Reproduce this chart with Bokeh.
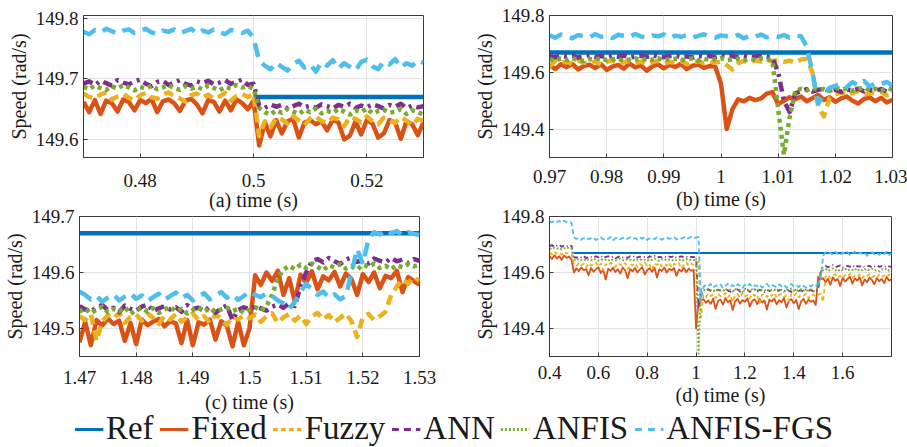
from bokeh.plotting import figure
from bokeh.models import Range1d, FixedTicker, Legend, LegendItem
from bokeh.layouts import column, row
from bokeh.embed import file_html
from bokeh.resources import INLINE

FONT = "'Liberation Serif', 'Times New Roman', serif"

# ---------------- data ----------------
names = ["Ref", "Fixed", "Fuzzy", "ANN", "ANFIS", "ANFIS-FGS"]
ref_speed = 149.67
ref_start = 0.5

# panel (a): 0.470 .. 0.530 s, 1 ms step
t_a = [round(0.470 + 0.001 * i, 3) for i in range(61)]
fixed_a = [149.662, 149.645, 149.665, 149.642, 149.664, 149.660, 149.646, 149.666, 149.662, 149.648,
           149.665, 149.660, 149.667, 149.645, 149.663, 149.666, 149.660, 149.647, 149.664, 149.667,
           149.658, 149.643, 149.665, 149.662, 149.646, 149.664, 149.648, 149.666, 149.660, 149.650,
           149.664, 149.590, 149.628, 149.605, 149.632, 149.610, 149.630, 149.634, 149.603, 149.628,
           149.632, 149.625, 149.630, 149.615, 149.633, 149.628, 149.600, 149.606, 149.630, 149.608,
           149.632, 149.626, 149.603, 149.610, 149.632, 149.628, 149.601, 149.630, 149.625, 149.607,
           149.628]
fuzzy_a = [149.676, 149.670, 149.668, 149.674, 149.678, 149.666, 149.671, 149.675, 149.669, 149.664,
           149.673, 149.677, 149.670, 149.667, 149.674, 149.678, 149.671, 149.668, 149.662, 149.673,
           149.676, 149.669, 149.674, 149.667, 149.671, 149.677, 149.664, 149.672, 149.675, 149.670,
           149.676, 149.605,
           149.630, 149.620, 149.636, 149.633, 149.626, 149.638, 149.631, 149.624, 149.635, 149.638,
           149.630, 149.627, 149.636, 149.633, 149.622, 149.637, 149.634, 149.628, 149.638, 149.630,
           149.625, 149.636, 149.632, 149.627, 149.637, 149.631, 149.623, 149.634, 149.630]
ann_a = [149.692, 149.696, 149.690, 149.697, 149.693, 149.689, 149.698, 149.694, 149.691, 149.696,
         149.699, 149.692, 149.688, 149.695, 149.697, 149.690, 149.694, 149.698, 149.692, 149.689,
         149.696, 149.693, 149.697, 149.691, 149.694, 149.698, 149.692, 149.695, 149.699, 149.690,
         149.692,
         149.656, 149.652, 149.658, 149.654, 149.657, 149.651, 149.655, 149.659, 149.653, 149.656,
         149.652, 149.658, 149.655, 149.651, 149.657, 149.654, 149.659, 149.652, 149.656, 149.653,
         149.658, 149.655, 149.651, 149.657, 149.654, 149.659, 149.652, 149.656, 149.653, 149.655]
anfis_a = [149.687, 149.683, 149.689, 149.685, 149.682, 149.688, 149.684, 149.690, 149.686, 149.681,
           149.687, 149.684, 149.689, 149.683, 149.686, 149.690, 149.685, 149.682, 149.688, 149.684,
           149.687, 149.683, 149.689, 149.685, 149.681, 149.687, 149.684, 149.690, 149.686, 149.688,
           149.684,
           149.652, 149.645, 149.641, 149.648, 149.644, 149.650, 149.646, 149.642, 149.649, 149.645,
           149.651, 149.643, 149.647, 149.644, 149.650, 149.646, 149.641, 149.648, 149.645, 149.651,
           149.643, 149.647, 149.649, 149.644, 149.646, 149.650, 149.642, 149.648, 149.645, 149.641]
fgs_a = [149.778, 149.774, 149.781, 149.777, 149.783, 149.779, 149.775, 149.780, 149.782, 149.776,
         149.779, 149.783, 149.777, 149.774, 149.780, 149.778, 149.782, 149.776, 149.779, 149.783,
         149.775, 149.780, 149.777, 149.782, 149.778, 149.774, 149.781, 149.779, 149.776, 149.780,
         149.768,
         149.730, 149.722, 149.716, 149.727, 149.720, 149.714, 149.725, 149.730, 149.719, 149.724,
         149.712, 149.728, 149.722, 149.731, 149.717, 149.726, 149.720, 149.714, 149.728, 149.732,
         149.721, 149.716, 149.729, 149.724, 149.733, 149.719, 149.726, 149.722, 149.731, 149.727]

# panel (b): 0.970 .. 1.030 s
t_b = [round(0.970 + 0.001 * i, 3) for i in range(61)]
fixed_b = [149.625, 149.612, 149.628, 149.618, 149.630, 149.610, 149.622, 149.627, 149.615, 149.629,
           149.608, 149.620, 149.626, 149.613, 149.631, 149.617, 149.624, 149.606, 149.621, 149.628,
           149.614, 149.626, 149.619, 149.630, 149.611, 149.623, 149.627, 149.616, 149.622, 149.620,
           149.560, 149.400, 149.470, 149.505,
           149.498, 149.510, 149.502, 149.508, 149.525, 149.530, 149.488, 149.500, 149.512, 149.505,
           149.515, 149.498, 149.509, 149.520, 149.503, 149.512, 149.496, 149.508, 149.515, 149.500,
           149.490, 149.506, 149.512, 149.498, 149.510, 149.494, 149.503]
fuzzy_b = [149.620, 149.640, 149.632, 149.638, 149.628, 149.641, 149.634, 149.630, 149.639, 149.626,
           149.637, 149.642, 149.629, 149.636, 149.640, 149.631, 149.638, 149.627, 149.635, 149.641,
           149.630, 149.637, 149.633, 149.640, 149.628, 149.636, 149.639, 149.632, 149.637, 149.634,
           149.638, 149.625, 149.610, 149.632, 149.640, 149.636, 149.642, 149.638, 149.644, 149.640,
           149.643, 149.637, 149.641, 149.634, 149.645, 149.648,
           149.600, 149.480, 149.445, 149.510,
           149.522, 149.530, 149.518, 149.527, 149.533, 149.520, 149.528, 149.524, 149.531, 149.519,
           149.526]
ann_b = [149.657, 149.653, 149.659, 149.655, 149.658, 149.652, 149.656, 149.660, 149.654, 149.657,
         149.653, 149.658, 149.655, 149.659, 149.652, 149.656, 149.658, 149.654, 149.660, 149.655,
         149.653, 149.657, 149.659, 149.654, 149.656, 149.652, 149.658, 149.655, 149.657, 149.653,
         149.659, 149.655, 149.657, 149.652, 149.658, 149.654, 149.656, 149.659, 149.655,
         149.650, 149.600, 149.500, 149.460, 149.525,
         149.535, 149.541, 149.532, 149.538, 149.543, 149.534, 149.539, 149.531, 149.540, 149.536,
         149.542, 149.533, 149.538, 149.535, 149.541, 149.532, 149.537]
anfis_b = [149.646, 149.641, 149.648, 149.643, 149.649, 149.644, 149.640, 149.647, 149.645, 149.650,
           149.642, 149.646, 149.648, 149.641, 149.645, 149.649, 149.643, 149.647, 149.644, 149.650,
           149.642, 149.646, 149.648, 149.643, 149.645, 149.649, 149.641, 149.647, 149.644, 149.646,
           149.650, 149.643, 149.645, 149.648, 149.642, 149.647, 149.644, 149.649, 149.646,
           149.640, 149.470, 149.310, 149.440, 149.535,
           149.542, 149.536, 149.545, 149.538, 149.541, 149.534, 149.546, 149.539, 149.543, 149.535,
           149.540, 149.547, 149.537, 149.542, 149.536, 149.544, 149.539]
fgs_b = [149.730, 149.722, 149.733, 149.726, 149.720, 149.731, 149.727, 149.723, 149.734, 149.725,
         149.729, 149.721, 149.732, 149.728, 149.724, 149.735, 149.726, 149.722, 149.730, 149.727,
         149.733, 149.721, 149.729, 149.725, 149.731, 149.723, 149.728, 149.734, 149.726, 149.722,
         149.730, 149.727, 149.724, 149.732, 149.720, 149.729, 149.726, 149.733, 149.723, 149.728,
         149.725, 149.731, 149.722, 149.729, 149.727,
         149.690, 149.600, 149.490, 149.520, 149.545,
         149.552, 149.560, 149.548, 149.565, 149.555, 149.570, 149.550, 149.562, 149.558, 149.566,
         149.553]

# panel (c): 1.470 .. 1.530 s
t_c = [round(1.470 + 0.001 * i, 3) for i in range(61)]
fixed_c = [149.475, 149.512, 149.470, 149.515, 149.505, 149.518, 149.508, 149.514, 149.478, 149.510,
           149.472, 149.516, 149.506, 149.512, 149.517, 149.504, 149.513, 149.509, 149.474, 149.515,
           149.470, 149.511, 149.507, 149.516, 149.480, 149.513, 149.505, 149.468, 149.512, 149.470,
           149.500,
           149.595, 149.578, 149.600, 149.585, 149.603, 149.560, 149.590, 149.548, 149.596, 149.582,
           149.602, 149.570, 149.593, 149.586, 149.601, 149.575, 149.598, 149.588, 149.560, 149.597,
           149.583, 149.600, 149.572, 149.594, 149.590, 149.603, 149.565, 149.592, 149.585, 149.578]
fuzzy_c = [149.522, 149.515, 149.526, 149.478, 149.512, 149.524, 149.518, 149.528, 149.510, 149.521,
           149.525, 149.514, 149.527, 149.519, 149.508, 149.523, 149.516, 149.526, 149.512, 149.520,
           149.527, 149.515, 149.522, 149.510, 149.525, 149.518, 149.506, 149.521, 149.516, 149.524,
           149.518, 149.525, 149.512, 149.522, 149.527, 149.510, 149.520, 149.526, 149.514, 149.523,
           149.508, 149.521, 149.528, 149.516, 149.524, 149.511, 149.519, 149.527, 149.513, 149.485,
           149.520, 149.526, 149.515, 149.522,
           149.530, 149.560, 149.575,
           149.588, 149.580, 149.592, 149.585]
ann_c = [149.540, 149.534, 149.530, 149.538, 149.542, 149.533, 149.537, 149.529, 149.541, 149.535,
         149.532, 149.539, 149.543, 149.531, 149.536, 149.540, 149.534, 149.538, 149.530, 149.542,
         149.535, 149.537, 149.531, 149.539, 149.528, 149.536, 149.541, 149.515, 149.533, 149.538,
         149.534, 149.540, 149.536, 149.532, 149.539, 149.543, 149.537,
         149.545, 149.540, 149.575, 149.600, 149.620,
         149.624, 149.618, 149.626, 149.620, 149.615, 149.623, 149.627, 149.619, 149.622, 149.616,
         149.625, 149.621, 149.618, 149.626, 149.620, 149.623, 149.617, 149.624, 149.621]
anfis_c = [149.530, 149.536, 149.527, 149.534, 149.539, 149.529, 149.535, 149.531, 149.538, 149.526,
           149.533, 149.537, 149.530, 149.536, 149.528, 149.534, 149.539, 149.531, 149.535, 149.527,
           149.533, 149.538, 149.530, 149.536, 149.529, 149.534, 149.537, 149.531, 149.535, 149.528,
           149.533, 149.538, 149.532, 149.540,
           149.560, 149.590, 149.605,
           149.612, 149.606, 149.614, 149.608, 149.616, 149.610, 149.604, 149.613, 149.609, 149.615,
           149.607, 149.611, 149.605, 149.614, 149.610, 149.616, 149.608, 149.612, 149.606, 149.613,
           149.609, 149.615, 149.611, 149.614]
fgs_c = [149.566, 149.560, 149.552, 149.558, 149.548, 149.555, 149.561, 149.550, 149.557, 149.563,
         149.553, 149.559, 149.549, 149.556, 149.562, 149.551, 149.558, 149.564, 149.554, 149.560,
         149.550, 149.557, 149.563, 149.552, 149.559, 149.565, 149.555, 149.561, 149.551, 149.558,
         149.566, 149.560, 149.556, 149.563, 149.558, 149.550, 149.545,
         149.535, 149.548, 149.565, 149.580, 149.570,
         149.560, 149.566, 149.555, 149.561, 149.552, 149.558,
         149.600, 149.642, 149.615, 149.660,
         149.672, 149.668, 149.676, 149.670, 149.674, 149.666, 149.672, 149.669, 149.667]

# panel (d): 0.40 .. 1.80 s, 10 ms step
t_d = [round(0.40 + 0.01 * i, 2) for i in range(141)]
fixed_d = [149.660, 149.648, 149.662, 149.650, 149.658, 149.645, 149.661, 149.652, 149.657, 149.647,
           149.600, 149.615, 149.605, 149.618, 149.608, 149.612, 149.590, 149.616, 149.603, 149.611,
           149.619, 149.598, 149.610, 149.575, 149.614, 149.606, 149.617, 149.602, 149.612, 149.596,
           149.618, 149.607, 149.580, 149.613, 149.604, 149.616, 149.600, 149.611, 149.619, 149.593,
           149.609, 149.615, 149.603, 149.617, 149.582, 149.612, 149.605, 149.618, 149.600, 149.613,
           149.608, 149.616, 149.588, 149.611, 149.604, 149.617, 149.601, 149.614, 149.606, 149.610,
           149.400, 149.495, 149.500,
           149.505, 149.492, 149.500, 149.488, 149.507, 149.470, 149.498, 149.503, 149.485, 149.509,
           149.494, 149.501, 149.466, 149.497, 149.506, 149.489, 149.502, 149.495, 149.508, 149.478,
           149.499, 149.504, 149.487, 149.506, 149.493, 149.500, 149.468, 149.503, 149.496, 149.507,
           149.486, 149.501, 149.494, 149.509, 149.475, 149.498, 149.505, 149.490, 149.502, 149.469,
           149.497, 149.506, 149.488, 149.503, 149.495, 149.500, 149.484,
           149.585, 149.575,
           149.580, 149.565, 149.578, 149.556, 149.583, 149.570, 149.577, 149.552, 149.581, 149.568,
           149.576, 149.585, 149.560, 149.579, 149.571, 149.583, 149.554, 149.575, 149.566, 149.582,
           149.573, 149.558, 149.580, 149.569, 149.577, 149.562, 149.584, 149.571, 149.576]
fuzzy_d = [149.672, 149.665, 149.675, 149.667, 149.671, 149.663, 149.674, 149.668, 149.670, 149.666,
           149.630, 149.622, 149.634, 149.626, 149.631, 149.618, 149.633, 149.625, 149.629, 149.636,
           149.621, 149.632, 149.608, 149.630, 149.624, 149.635, 149.627, 149.620, 149.633, 149.628,
           149.623, 149.634, 149.612, 149.630, 149.626, 149.633, 149.619, 149.631, 149.625, 149.636,
           149.622, 149.629, 149.610, 149.632, 149.627, 149.634, 149.621, 149.630, 149.624, 149.635,
           149.618, 149.631, 149.626, 149.633, 149.615, 149.629, 149.636, 149.623, 149.631, 149.628,
           149.635, 149.640, 149.440,
           149.520, 149.512, 149.525, 149.516, 149.522, 149.508, 149.524, 149.515, 149.519, 149.527,
           149.511, 149.521, 149.495, 149.518, 149.523, 149.510, 149.526, 149.514, 149.520, 149.506,
           149.524, 149.517, 149.521, 149.490, 149.519, 149.525, 149.512, 149.522, 149.516, 149.527,
           149.509, 149.520, 149.524, 149.513, 149.518, 149.498, 149.523, 149.515, 149.526, 149.511,
           149.521, 149.517, 149.524, 149.508, 149.519, 149.522, 149.514,
           149.520, 149.525,
           149.495,
           149.585, 149.592, 149.580, 149.589, 149.594, 149.582, 149.588, 149.578, 149.591, 149.586,
           149.595, 149.581, 149.589, 149.584, 149.593, 149.579, 149.590, 149.586, 149.594, 149.583,
           149.588, 149.580, 149.592, 149.585, 149.590, 149.582, 149.593, 149.587]
ann_d = [149.694, 149.698, 149.691, 149.696, 149.699, 149.692, 149.697, 149.693, 149.698, 149.695,
         149.656, 149.652, 149.658, 149.654, 149.659, 149.651, 149.657, 149.655, 149.653, 149.658,
         149.654, 149.660, 149.652, 149.656, 149.658, 149.653, 149.657, 149.651, 149.655, 149.659,
         149.654, 149.656, 149.652, 149.658, 149.655, 149.660, 149.653, 149.657, 149.654, 149.656,
         149.651, 149.658, 149.655, 149.659, 149.652, 149.656, 149.654, 149.658, 149.653, 149.657,
         149.655, 149.660, 149.652, 149.656, 149.658, 149.654, 149.657, 149.653, 149.656, 149.655,
         149.657, 149.470, 149.535,
         149.538, 149.532, 149.540, 149.534, 149.537, 149.530, 149.539, 149.535, 149.533, 149.541,
         149.536, 149.531, 149.538, 149.534, 149.540, 149.532, 149.537, 149.535, 149.539, 149.531,
         149.536, 149.540, 149.533, 149.538, 149.535, 149.530, 149.539, 149.534, 149.537, 149.541,
         149.532, 149.536, 149.538, 149.533, 149.540, 149.535, 149.531, 149.537, 149.539, 149.534,
         149.536, 149.532, 149.540, 149.535, 149.538, 149.533, 149.537,
         149.540, 149.600,
         149.620, 149.624, 149.618, 149.623, 149.626, 149.619, 149.622, 149.625, 149.617, 149.621,
         149.624, 149.620, 149.626, 149.618, 149.623, 149.621, 149.625, 149.619, 149.622, 149.624,
         149.617, 149.621, 149.626, 149.620, 149.623, 149.619, 149.625, 149.622, 149.620]
anfis_d = [149.686, 149.683, 149.689, 149.685, 149.688, 149.682, 149.687, 149.684, 149.690, 149.686,
           149.646, 149.642, 149.649, 149.644, 149.648, 149.641, 149.647, 149.643, 149.650, 149.645,
           149.642, 149.648, 149.644, 149.646, 149.641, 149.649, 149.645, 149.643, 149.647, 149.650,
           149.644, 149.642, 149.648, 149.646, 149.641, 149.647, 149.645, 149.649, 149.643, 149.646,
           149.642, 149.648, 149.644, 149.650, 149.645, 149.641, 149.647, 149.643, 149.649, 149.646,
           149.642, 149.648, 149.644, 149.647, 149.641, 149.645, 149.649, 149.643, 149.646, 149.644,
           149.645, 149.310, 149.540,
           149.540, 149.534, 149.542, 149.536, 149.539, 149.531, 149.541, 149.537, 149.533, 149.543,
           149.535, 149.539, 149.532, 149.541, 149.536, 149.538, 149.530, 149.542, 149.537, 149.534,
           149.540, 149.536, 149.543, 149.533, 149.538, 149.535, 149.541, 149.532, 149.539, 149.536,
           149.542, 149.534, 149.538, 149.531, 149.540, 149.537, 149.543, 149.535, 149.539, 149.533,
           149.541, 149.536, 149.538, 149.534, 149.540, 149.532, 149.537,
           149.545, 149.600,
           149.608, 149.613, 149.605, 149.611, 149.615, 149.607, 149.612, 149.604, 149.610, 149.614,
           149.606, 149.611, 149.609, 149.615, 149.605, 149.612, 149.608, 149.613, 149.606, 149.611,
           149.614, 149.607, 149.610, 149.604, 149.612, 149.609, 149.615, 149.606, 149.611]
fgs_d = [149.783, 149.779, 149.786, 149.781, 149.784, 149.778, 149.785, 149.780, 149.783, 149.777,
         149.726, 149.720, 149.724, 149.717, 149.723, 149.727, 149.719, 149.722, 149.725, 149.716,
         149.721, 149.726, 149.718, 149.723, 149.720, 149.727, 149.715, 149.722, 149.725, 149.719,
         149.724, 149.717, 149.721, 149.726, 149.720, 149.723, 149.718, 149.725, 149.721, 149.727,
         149.716, 149.722, 149.724, 149.719, 149.726, 149.721, 149.717, 149.723, 149.725, 149.720,
         149.722, 149.727, 149.718, 149.724, 149.721, 149.726, 149.719, 149.723, 149.728, 149.722,
         149.725, 149.727, 149.500,
         149.548, 149.556, 149.551, 149.559, 149.546, 149.554, 149.550, 149.557, 149.544, 149.553,
         149.560, 149.549, 149.555, 149.547, 149.558, 149.552, 149.545, 149.556, 149.550, 149.559,
         149.548, 149.554, 149.551, 149.557, 149.546, 149.553, 149.560, 149.549, 149.555, 149.552,
         149.547, 149.558, 149.551, 149.556, 149.545, 149.553, 149.559, 149.550, 149.554, 149.548,
         149.557, 149.552, 149.546, 149.555, 149.551, 149.558, 149.553,
         149.560, 149.575,
         149.660, 149.672, 149.665, 149.670, 149.663, 149.674, 149.667, 149.661, 149.671, 149.666,
         149.673, 149.662, 149.669, 149.675, 149.664, 149.670, 149.667, 149.672, 149.660, 149.668,
         149.673, 149.665, 149.670, 149.663, 149.671, 149.666, 149.674, 149.662, 149.669]

# axis ticks / labels
xt_a, xl_a = [0.48, 0.5, 0.52], ["0.48", "0.5", "0.52"]
yt_a, yl_a = [149.6, 149.7, 149.8], ["149.6", "149.7", "149.8"]
xt_b = [0.97, 0.98, 0.99, 1.0, 1.01, 1.02, 1.03]
xl_b = ["0.97", "0.98", "0.99", "1", "1.01", "1.02", "1.03"]
yt_b, yl_b = [149.4, 149.6, 149.8], ["149.4", "149.6", "149.8"]
xt_c = [1.47, 1.48, 1.49, 1.5, 1.51, 1.52, 1.53]
xl_c = ["1.47", "1.48", "1.49", "1.5", "1.51", "1.52", "1.53"]
yt_c, yl_c = [149.5, 149.6, 149.7], ["149.5", "149.6", "149.7"]
xt_d = [0.4, 0.6, 0.8, 1.0, 1.2, 1.4, 1.6]
xl_d = ["0.4", "0.6", "0.8", "1", "1.2", "1.4", "1.6"]
yt_d, yl_d = [149.4, 149.6, 149.8], ["149.4", "149.6", "149.8"]

# ---------------- styles ----------------
COLORS = ["#0072BD", "#D95319", "#EDB120", "#7E2F8E", "#77AC30", "#4DBEEE"]
DASH_ZOOM = ["solid", "solid", "10 6", "10 5 3 5", "4 4", "14 8"]
DASH_FULL = ["solid", "solid", "4 3", "5 3 1 3", "2 2", "5 3"]
TXT = "#1a1a1a"
EDGE = "#3a3a3a"


def panel(w, h, bl, br, bt, bb, xr, yr, xt, xl, yt, yl, xlabel, s1x, s2x):
    p = figure(width=w, height=h, x_range=Range1d(*xr), y_range=Range1d(*yr),
               output_backend="svg", toolbar_location=None,
               min_border_left=bl, min_border_right=br, min_border_top=bt, min_border_bottom=bb,
               background_fill_color="white", border_fill_alpha=0)
    p.xaxis.ticker = FixedTicker(ticks=xt)
    p.xaxis.major_label_overrides = dict(zip(xt, xl))
    p.yaxis.ticker = FixedTicker(ticks=yt)
    p.yaxis.major_label_overrides = dict(zip(yt, yl))
    p.xaxis.axis_label = xlabel
    p.yaxis.axis_label = "Speed (rad/s)"
    for ax in (p.xaxis[0], p.yaxis[0]):
        ax.axis_label_text_font = FONT
        ax.axis_label_text_font_size = "20px"
        ax.axis_label_text_font_style = "normal"
        ax.axis_label_text_color = TXT
        ax.major_label_text_font = FONT
        ax.major_label_text_font_size = "19px"
        ax.major_label_text_color = TXT
        ax.axis_line_color = EDGE
        ax.major_tick_line_color = EDGE
        ax.major_tick_in = 4
        ax.major_tick_out = 0
        ax.minor_tick_line_color = None
    p.xaxis.major_label_standoff = s1x
    p.xaxis.axis_label_standoff = s2x
    p.yaxis.major_label_standoff = 5
    p.yaxis.axis_label_standoff = 3
    p.grid.grid_line_color = "#e3e3e3"
    p.grid.grid_line_width = 1
    p.outline_line_color = EDGE
    p.outline_line_width = 1
    return p


def draw(p, t, series, xr, lw, ref_lw, dashes):
    p.line(x=[max(xr[0], ref_start), xr[1]], y=[ref_speed, ref_speed],
           line_color=COLORS[0], line_width=ref_lw)
    for k, ys in enumerate(series, start=1):
        n = min(len(t), len(ys))
        p.line(x=t[:n], y=ys[:n], line_color=COLORS[k], line_width=lw,
               line_dash=dashes[k], line_join="round", line_cap="butt")


xr_a, xr_b, xr_c, xr_d = (0.47, 0.53), (0.97, 1.03), (1.47, 1.53), (0.4, 1.8)

pa = panel(460, 222, 83, 37, 15, 62, xr_a, (149.57, 149.805), xt_a, xl_a, yt_a, yl_a,
           "(a) time (s)", 16, -1)
draw(pa, t_a, [fixed_a, fuzzy_a, ann_a, anfis_a, fgs_a], xr_a, 4.5, 4.5, DASH_ZOOM)

pb = panel(447, 222, 89, 15, 15, 65, xr_b, (149.3, 149.8), xt_b, xl_b, yt_b, yl_b,
           "(b) time (s)", 12, 2)
draw(pb, t_b, [fixed_b, fuzzy_b, ann_b, anfis_b, fgs_b], xr_b, 4.5, 4.5, DASH_ZOOM)

pc = panel(460, 218, 79, 41, 12, 63, xr_c, (149.45, 149.7), xt_c, xl_c, yt_c, yl_c,
           "(c) time (s)", 14, 4)
draw(pc, t_c, [fixed_c, fuzzy_c, ann_c, anfis_c, fgs_c], xr_c, 4.5, 4.5, DASH_ZOOM)

pd = panel(447, 218, 89, 16, 9, 66, xr_d, (149.3, 149.8), xt_d, xl_d, yt_d, yl_d,
           "(d) time (s)", 9, 2)
draw(pd, t_d, [fixed_d, fuzzy_d, ann_d, anfis_d, fgs_d], xr_d, 1.8, 2, DASH_FULL)

# legend strip (its lines hold the panel (d) series, outside the strip's visible range)
pl = figure(width=907, height=40, output_backend="svg", toolbar_location=None,
            x_range=Range1d(0, 1), y_range=Range1d(0, 1), min_border=0,
            x_axis_location=None, y_axis_location=None, border_fill_alpha=0,
            background_fill_alpha=0)
pl.grid.visible = False
pl.outline_line_color = None
LEG_DASH = ["solid", "solid", "5 3", "7 5", "2 2", "7 6"]
leg_series = [[ref_speed] * len(t_d), fixed_d, fuzzy_d, ann_d, anfis_d, fgs_d]
items = []
for k, nm in enumerate(names):
    r = pl.line(x=t_d, y=leg_series[k], line_color=COLORS[k], line_width=3,
                line_dash=LEG_DASH[k])
    items.append(LegendItem(label=nm, renderers=[r]))
leg = Legend(items=items, orientation="horizontal", location="bottom",
             label_text_font=FONT, label_text_font_size="33px", label_text_color=TXT,
             glyph_width=29, glyph_height=20, label_standoff=3, spacing=6,
             padding=0, margin=0, border_line_alpha=0, background_fill_alpha=0)
pl.add_layout(leg, "center")

top_row = row(pa, pb)
bottom_row = row(pc, pd, margin=(-18, 0, 0, 0))
pl.margin = (-15, 0, 0, 0)
layout = column(top_row, bottom_row, pl)
open("out.html", "w").write(file_html(layout, INLINE))
